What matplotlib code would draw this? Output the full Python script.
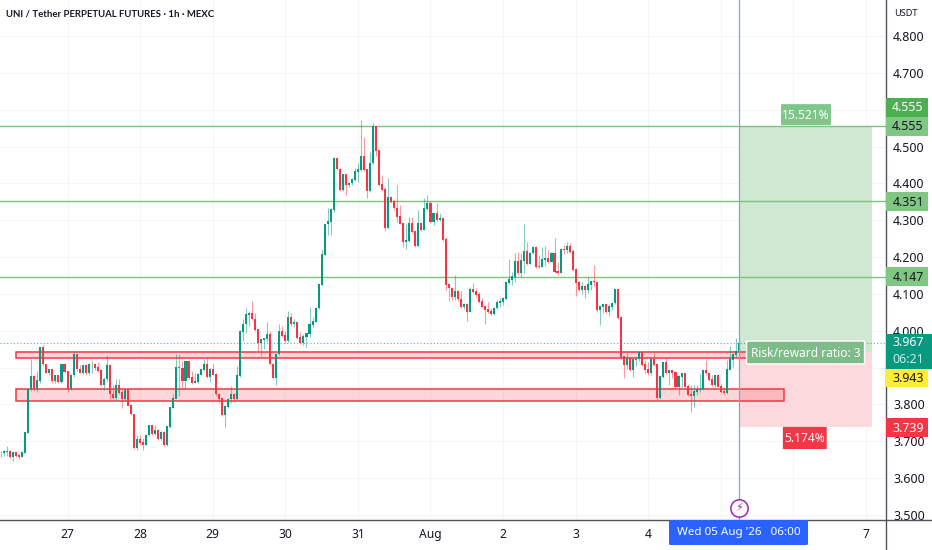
#!/usr/bin/env python3
# UNI / USDT hourly candles with long position tool, support zones and price tags

import matplotlib
matplotlib.use('Agg')
import matplotlib.pyplot as plt
from matplotlib.patches import Rectangle, FancyBboxPatch
from matplotlib.transforms import blended_transform_factory

# Candle data, one per hour, first candle at hour -22 (26 Jul 02:00)
first_hour = -22
closes = [
    3.667, 3.671, 3.673, 3.658, 3.669, 3.660, 3.658, 3.669, 3.723, 3.841,
    3.875, 3.841, 3.863, 3.954, 3.909, 3.886, 3.895, 3.863, 3.877, 3.861,
    3.907, 3.888, 3.841, 3.879, 3.936, 3.895, 3.886, 3.904, 3.884, 3.909,
    3.909, 3.900, 3.891, 3.854, 3.868, 3.904, 3.827, 3.818, 3.852, 3.832,
    3.814, 3.836, 3.797, 3.773, 3.682, 3.705, 3.696, 3.691, 3.716, 3.741,
    3.719, 3.730, 3.705, 3.723, 3.689, 3.739, 3.791, 3.815, 3.900, 3.898,
    3.863, 3.916, 3.872, 3.859, 3.861, 3.881, 3.893, 3.909, 3.875, 3.895,
    3.881, 3.827, 3.815, 3.770, 3.794, 3.814, 3.827, 3.814, 3.877, 3.996,
    4.017, 4.044, 4.047, 4.031, 4.002, 3.967, 3.975, 3.978, 3.990, 3.909,
    3.872, 3.936, 3.997, 3.986, 3.972, 4.035, 4.017, 4.022, 3.981,
    3.966, 3.984, 3.991, 4.016, 4.025, 4.061, 4.124, 4.206, 4.289, 4.296,
    4.328, 4.468, 4.438, 4.382, 4.423, 4.395, 4.400, 4.409, 4.432, 4.436,
    4.471, 4.436, 4.379, 4.454, 4.554, 4.489, 4.395, 4.382, 4.278, 4.362,
    4.350, 4.332, 4.310, 4.291, 4.242, 4.244, 4.291, 4.269, 4.230, 4.291,
    4.273, 4.330, 4.346, 4.296, 4.317, 4.300, 4.305, 4.246, 4.124, 4.115,
    4.091, 4.106, 4.085, 4.065, 4.070, 4.052, 4.111, 4.106, 4.097, 4.079,
    4.065, 4.056, 4.052, 4.045, 4.061, 4.076, 4.079, 4.086, 4.129, 4.138,
    4.147, 4.187, 4.156, 4.190, 4.215, 4.181, 4.210, 4.226, 4.174, 4.172,
    4.192, 4.196, 4.187, 4.210, 4.160, 4.156, 4.221, 4.219, 4.228, 4.215,
    4.165, 4.130, 4.111, 4.120, 4.111, 4.124, 4.133, 4.131, 4.056,
    4.065, 4.070, 4.052, 4.065, 4.074, 4.111, 4.034, 3.930, 3.907, 3.925,
    3.893, 3.921, 3.922, 3.939, 3.907, 3.893, 3.884, 3.921, 3.907, 3.817,
    3.875, 3.912, 3.884, 3.892, 3.886, 3.848, 3.875, 3.884, 3.848, 3.826,
    3.822, 3.835, 3.839, 3.841, 3.892, 3.884, 3.866, 3.853, 3.878, 3.848,
    3.835, 3.830, 3.893, 3.921, 3.934, 3.943, 3.966,
]
highs = [
    3.673, 3.676, 3.687, 3.676, 3.671, 3.671, 3.667, 3.673, 3.725, 3.843,
    3.922, 3.879, 3.891, 3.956, 3.960, 3.911, 3.897, 3.897, 3.881, 3.881,
    3.909, 3.909, 3.891, 3.882, 3.941, 3.934, 3.906, 3.907, 3.909, 3.913,
    3.917, 3.913, 3.915, 3.897, 3.875, 3.934, 3.906, 3.854, 3.868, 3.868,
    3.843, 3.839, 3.841, 3.800, 3.775, 3.717, 3.717, 3.709, 3.719, 3.743,
    3.739, 3.745, 3.734, 3.727, 3.727, 3.741, 3.794, 3.827, 3.936, 3.936,
    3.918, 3.918, 3.916, 3.891, 3.884, 3.884, 3.897, 3.922, 3.925, 3.900,
    3.909, 3.884, 3.830, 3.817, 3.798, 3.818, 3.851, 3.832, 3.904, 4.003,
    4.031, 4.062, 4.053, 4.082, 4.047, 4.005, 3.978, 3.981, 4.024, 3.999,
    3.913, 3.939, 4.019, 4.012, 4.000, 4.053, 4.049, 4.033, 4.025,
    3.997, 3.991, 3.995, 4.065, 4.038, 4.065, 4.127, 4.221, 4.291, 4.332,
    4.332, 4.472, 4.468, 4.445, 4.425, 4.420, 4.404, 4.414, 4.441, 4.454,
    4.572, 4.527, 4.438, 4.486, 4.563, 4.554, 4.490, 4.423, 4.389, 4.414,
    4.366, 4.357, 4.395, 4.341, 4.293, 4.291, 4.310, 4.308, 4.272, 4.328,
    4.293, 4.359, 4.368, 4.353, 4.320, 4.346, 4.319, 4.305, 4.255, 4.127,
    4.120, 4.151, 4.111, 4.108, 4.074, 4.074, 4.120, 4.129, 4.115, 4.106,
    4.088, 4.070, 4.079, 4.061, 4.065, 4.083, 4.088, 4.091, 4.133, 4.195,
    4.160, 4.210, 4.215, 4.210, 4.291, 4.242, 4.215, 4.230, 4.230, 4.205,
    4.228, 4.230, 4.219, 4.215, 4.253, 4.187, 4.224, 4.233, 4.242, 4.237,
    4.221, 4.169, 4.136, 4.133, 4.124, 4.147, 4.136, 4.178, 4.133,
    4.070, 4.076, 4.070, 4.073, 4.079, 4.113, 4.113, 4.040, 3.932, 3.943,
    3.925, 3.925, 3.930, 3.943, 3.941, 3.921, 3.916, 3.928, 3.943, 3.910,
    3.880, 3.913, 3.925, 3.895, 3.893, 3.889, 3.880, 3.886, 3.880, 3.856,
    3.853, 3.853, 3.853, 3.883, 3.895, 3.921, 3.889, 3.880, 3.881, 3.881,
    3.856, 3.848, 3.921, 3.958, 3.939, 3.980, 3.979,
]
lows = [
    3.658, 3.660, 3.660, 3.656, 3.646, 3.658, 3.653, 3.658, 3.669, 3.723,
    3.836, 3.836, 3.834, 3.859, 3.904, 3.884, 3.879, 3.859, 3.859, 3.859,
    3.859, 3.886, 3.834, 3.838, 3.875, 3.892, 3.884, 3.882, 3.880, 3.880,
    3.884, 3.894, 3.887, 3.851, 3.839, 3.863, 3.814, 3.815, 3.812, 3.827,
    3.791, 3.812, 3.795, 3.771, 3.679, 3.676, 3.691, 3.676, 3.690, 3.714,
    3.716, 3.716, 3.703, 3.703, 3.687, 3.687, 3.737, 3.791, 3.820, 3.823,
    3.841, 3.841, 3.870, 3.855, 3.857, 3.859, 3.879, 3.891, 3.871, 3.861,
    3.879, 3.824, 3.804, 3.768, 3.739, 3.791, 3.804, 3.806, 3.811, 3.875,
    3.971, 3.993, 4.012, 4.028, 3.999, 3.945, 3.931, 3.950, 3.970, 3.906,
    3.869, 3.854, 3.934, 3.984, 3.966, 3.970, 4.012, 4.011, 3.978,
    3.963, 3.961, 3.957, 3.984, 4.011, 4.025, 4.058, 4.124, 4.206, 4.260,
    4.260, 4.323, 4.436, 4.380, 4.380, 4.368, 4.389, 4.395, 4.407, 4.404,
    4.434, 4.434, 4.359, 4.377, 4.452, 4.474, 4.393, 4.379, 4.272, 4.275,
    4.348, 4.329, 4.296, 4.290, 4.228, 4.221, 4.242, 4.266, 4.226, 4.228,
    4.272, 4.273, 4.329, 4.293, 4.287, 4.299, 4.299, 4.244, 4.111, 4.082,
    4.083, 4.083, 4.082, 4.061, 4.058, 4.027, 4.052, 4.102, 4.092, 4.076,
    4.063, 4.017, 4.047, 4.043, 4.044, 4.058, 4.065, 4.070, 4.086, 4.127,
    4.124, 4.133, 4.151, 4.147, 4.156, 4.178, 4.181, 4.208, 4.170, 4.170,
    4.172, 4.176, 4.185, 4.187, 4.158, 4.151, 4.156, 4.208, 4.210, 4.212,
    4.162, 4.094, 4.108, 4.100, 4.088, 4.103, 4.111, 4.121, 4.052,
    4.016, 4.049, 4.049, 4.040, 4.055, 4.073, 4.031, 3.923, 3.871, 3.895,
    3.891, 3.875, 3.904, 3.919, 3.904, 3.884, 3.880, 3.880, 3.904, 3.812,
    3.814, 3.873, 3.883, 3.853, 3.871, 3.844, 3.826, 3.846, 3.846, 3.823,
    3.780, 3.794, 3.826, 3.835, 3.839, 3.880, 3.864, 3.850, 3.848, 3.846,
    3.832, 3.826, 3.828, 3.895, 3.902, 3.930, 3.940,
]
# a candle opens where the previous one closed
opens = [closes[0]] + closes[:-1]

# Levels and zones
green_levels = [4.555, 4.351, 4.147]
last_price = 3.967
entry_price = 3.943
target_price = 4.555
stop_price = 3.739
upper_zone = (3.925, 3.943)
lower_zone = (3.810, 3.842)
zone_start_hour = -17
upper_zone_end_hour = 228
lower_zone_end_hour = 237
position_hours = (222.3, 265.9)
cross_hour = 222

# Axis labels (hours since 27 Jul 00:00)
day_hours = [0, 24, 48, 72, 96, 120, 144, 168, 192, 264]
day_labels = ['27', '28', '29', '30', '31', 'Aug', '2', '3', '4', '7']
grid_hours = [0, 24, 48, 72, 96, 120, 144, 168, 192, 216, 240, 264]
price_ticks = [4.8, 4.7, 4.6, 4.5, 4.4, 4.3, 4.2, 4.1, 4.0, 3.9, 3.8, 3.7, 3.6, 3.5]
hidden_ticks = [4.6, 3.9]

# Colors
UP = '#089981'
DOWN = '#F23645'
LEVEL = '#7CC47F'
TEXT = '#131722'
AXIS_LINE = '#50535E'

FONT = ['Noto Sans', 'DejaVu Sans']
plt.rcParams['font.family'] = FONT

fig = plt.figure(figsize=(9.32, 5.5), dpi=100)
ax = fig.add_axes([0, 30 / 550, 886 / 932, 520 / 550])
ax.set_xlim(-22.33, 270.6)
ax.set_ylim(3.4864, 4.8976)

# Grid
for p in price_ticks:
    ax.axhline(p, color='#F4F5F7', lw=0.8, zorder=0)
for h in grid_hours:
    ax.axvline(h, color='#F4F5F7', lw=0.8, zorder=0)

# Position tool
ax.add_patch(Rectangle((position_hours[0], entry_price), position_hours[1] - position_hours[0],
                       target_price - entry_price, facecolor='#CFE8D1', edgecolor='none', zorder=1))
ax.add_patch(Rectangle((position_hours[0], stop_price), position_hours[1] - position_hours[0],
                       entry_price - stop_price, facecolor='#FCD9DC', edgecolor='none', zorder=1))

# Horizontal levels
for level in green_levels:
    ax.axhline(level, color=LEVEL, lw=1.0, zorder=2)
ax.axhline(last_price, color=UP, lw=0.8, ls=(0, (1, 2)), alpha=0.7, zorder=2)

# Zones
for low, high, end in [(upper_zone[0], upper_zone[1], upper_zone_end_hour),
                       (lower_zone[0], lower_zone[1], lower_zone_end_hour)]:
    ax.add_patch(Rectangle((zone_start_hour, low), end - zone_start_hour, high - low,
                           facecolor=(242 / 255, 54 / 255, 69 / 255, 0.2),
                           edgecolor=DOWN, lw=1.1, zorder=3))

# Candles
hours = [first_hour + i for i in range(len(closes))]
colors = [UP if c >= o else DOWN for o, c in zip(opens, closes)]
ax.vlines(hours, lows, highs, colors=colors, lw=0.8, alpha=0.5, zorder=4)
ax.bar(hours, [abs(c - o) + 0.002 for o, c in zip(opens, closes)],
       bottom=[min(o, c) for o, c in zip(opens, closes)],
       width=0.68, color=colors, linewidth=0, zorder=5)

# Crosshair and the event marker
ax.axvline(cross_hour, color='#7FA6D6', lw=0.9, zorder=6)
ax.plot([cross_hour], [3.52], 'o', ms=12.5, mfc='white', mec='#9C27B0', mew=1.1, zorder=7)
ax.text(cross_hour, 3.5195, '\u26a1', color='#9C27B0', fontsize=8, ha='center', va='center',
        family=['DejaVu Sans'], zorder=8)


def note(hour0, hour1, price0, price1, text, face, edge='none'):
    box = FancyBboxPatch((hour0, price0), hour1 - hour0, price1 - price0,
                         boxstyle='round,pad=0,rounding_size=0.006',
                         facecolor=face, edgecolor=edge, lw=1, zorder=9, mutation_aspect=1)
    ax.add_patch(box)
    ax.text((hour0 + hour1) / 2, (price0 + price1) / 2 - 0.002, text, color='white',
            fontsize=8.6, ha='center', va='center', zorder=10)


note(235.9, 252.4, 4.558, 4.615, '15.521%', '#80C68B')
note(236.5, 251.0, 3.679, 3.739, '5.174%', DOWN)
note(224.5, 263.5, 3.910, 3.972, 'Risk/reward ratio: 3', '#7DBB89', 'white')

# Axes frame
for side in ['top', 'left', 'right', 'bottom']:
    ax.spines[side].set_visible(False)
ax.plot([1, 1], [-30 / 520, 1], color=AXIS_LINE, lw=1, transform=ax.transAxes, clip_on=False, zorder=11)
ax.plot([0, 932 / 886], [0, 0], color=AXIS_LINE, lw=1, transform=ax.transAxes, clip_on=False, zorder=11)

# Price scale
ax.yaxis.tick_right()
ax.set_yticks(price_ticks)
ax.set_yticklabels(['' if p in hidden_ticks else f'{p:.3f}' for p in price_ticks],
                   fontsize=8.9, color=TEXT)
ax.tick_params(axis='y', length=0, pad=5.2)

# Time scale
ax.set_xticks(day_hours)
ax.set_xticklabels(day_labels, fontsize=8.7, color=TEXT)
ax.tick_params(axis='x', length=0, pad=6)

# Tags on the price scale
tag_trans = blended_transform_factory(ax.transAxes, ax.transData)


def tag(center, text, face, color, right=928, height=0.0516):
    width_ax = (right - 886) / 886
    ax.add_patch(Rectangle((1, center - height / 2), width_ax, height, transform=tag_trans,
                           facecolor=face, edgecolor='none', clip_on=False, zorder=12))
    ax.text(908 / 886, center - 0.002, text, transform=tag_trans, color=color, fontsize=8.9,
            ha='center', va='center', clip_on=False, zorder=13)


tag(4.555, '4.555', '#81C784', TEXT)
tag(4.6066, '4.555', '#4CAF50', 'white')
tag(4.351, '4.351', '#81C784', TEXT)
tag(4.147, '4.147', '#81C784', TEXT)
# the yellow tag is pushed below the last price tag, so it sits under its real level
tag(3.872, f'{entry_price:.3f}', '#FFEB3B', TEXT)
tag(3.737, f'{stop_price:.3f}', DOWN, 'white')

# Last price tag with the countdown below it
ax.add_patch(Rectangle((1, 3.897), 46 / 886, 0.095, transform=tag_trans, facecolor=UP,
                       edgecolor='none', clip_on=False, zorder=14))
ax.text(908 / 886, last_price, f'{last_price:.3f}', transform=tag_trans, color='white',
        fontsize=8.9, ha='center', va='center', clip_on=False, zorder=15)
ax.text(908 / 886, 3.921, '06:21', transform=tag_trans, color='#CDEBE5',
        fontsize=8.9, ha='center', va='center', clip_on=False, zorder=15)

# Crosshair date label
fig.patches.append(FancyBboxPatch((669 / 932, 5 / 550), 139 / 932, 25 / 550, transform=fig.transFigure,
                                  boxstyle='round,pad=0,rounding_size=0.002', facecolor='#2962FF',
                                  edgecolor='none', zorder=20))
fig.text(738.5 / 932, 17.5 / 550, "Wed 05 Aug '26   06:00", color='white', fontsize=8.4,
         ha='center', va='center', zorder=21)

# Header
fig.text(6 / 932, 1 - 14 / 550, 'UNI / Tether PERPETUAL FUTURES \u00b7 1h \u00b7 MEXC', color=TEXT,
         fontsize=6.9, fontweight='bold', ha='left', va='center', family=['Lato', 'DejaVu Sans'])
fig.text(905.5 / 932, 1 - 14 / 550, 'USDT', color=TEXT, fontsize=6.6, ha='center', va='center')

fig.savefig('out.png', dpi=100)
print(len(closes), len(highs), len(lows))
